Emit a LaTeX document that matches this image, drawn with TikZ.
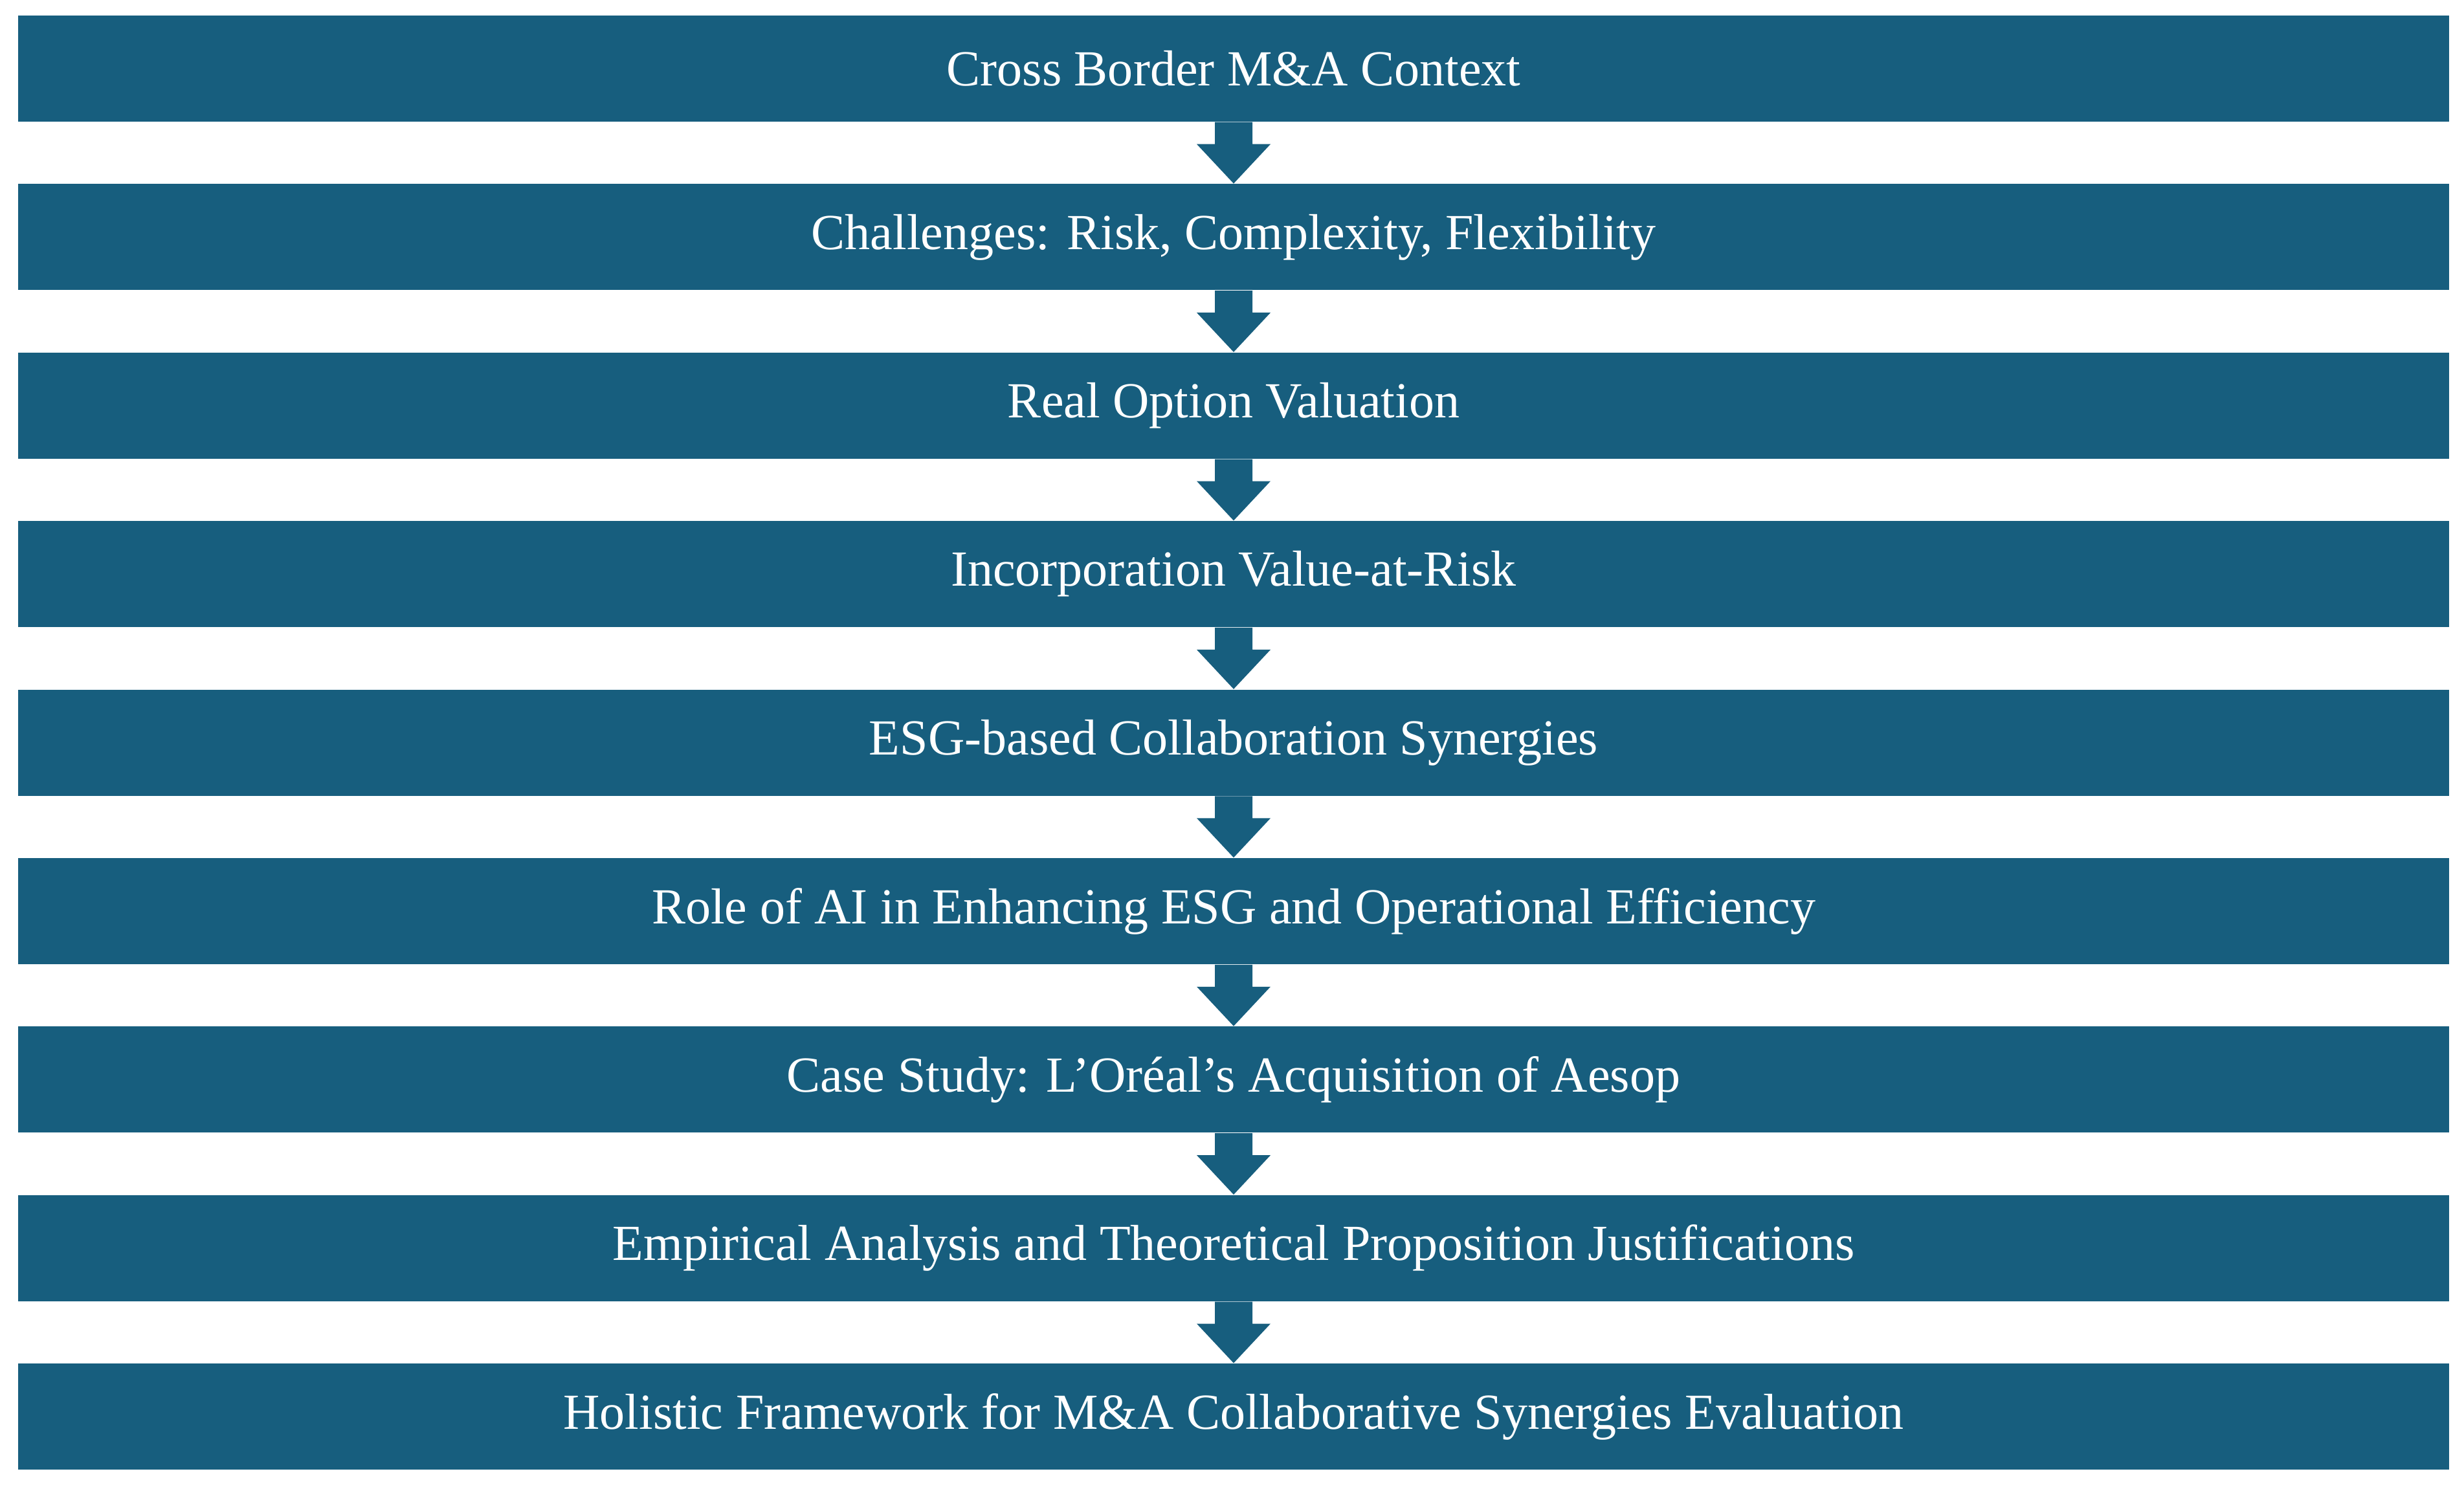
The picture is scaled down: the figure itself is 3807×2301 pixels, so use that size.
\documentclass[tikz,border=0pt]{standalone}
\usepackage{fontspec}
\setmainfont{Liberation Serif}
\usetikzlibrary{calc}
\definecolor{bx}{HTML}{175E7E}
\begin{document}
\begin{tikzpicture}[x=0.01cm,y=-0.01cm,
 box/.style={fill=bx,draw=none,minimum width=37.54cm,minimum height=1.64cm,inner sep=0pt,text=white,font=\fontsize{22.2}{26}\selectfont},
 arr/.style={fill=bx,draw=none}]
\useasboundingbox (0,0) rectangle (3807,2301);
\foreach \i/\t in {1/Cross Border M\&A Context,2/{Challenges: Risk, Complexity, Flexibility},3/Real Option Valuation,4/Incorporation Value-at-Risk,5/ESG-based Collaboration Synergies,6/Role of AI in Enhancing ESG and Operational Efficiency,7/Case Study: L\symbol{39}Oréal’s Acquisition of Aesop,8/Empirical Analysis and Theoretical Proposition Justifications,9/Holistic Framework for M\&A Collaborative Synergies Evaluation}{
 \node[box] (b\i) at (1906,{106+(\i-1)*260.4}) {\t};
}
\foreach \i [evaluate=\i as \j using int(\i+1)] in {1,...,8}{
 \fill[bx] ($(b\i.south)+(-29,0)$) -- ($(b\i.south)+(29,0)$) -- ($(b\i.south)+(29,34)$) -- ($(b\i.south)+(57,34)$) -- (b\j.north) -- ($(b\i.south)+(-57,34)$) -- ($(b\i.south)+(-29,34)$) -- cycle;
}
\end{tikzpicture}
\end{document}
